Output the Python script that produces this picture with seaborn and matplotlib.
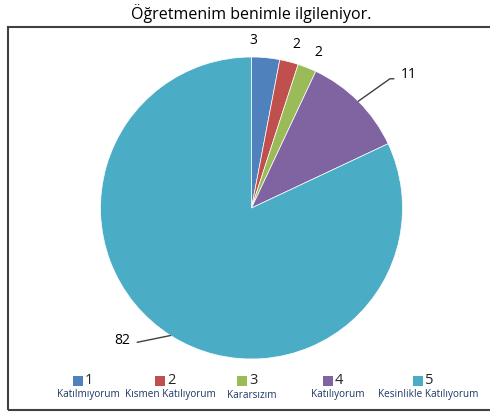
import numpy as np
import matplotlib
matplotlib.use("Agg")
import matplotlib.pyplot as plt
import seaborn as sns
from matplotlib.patches import Rectangle

sns.set_theme(style="white")
plt.rcParams['font.family'] = ['Open Sans', 'DejaVu Sans']

# Veriler
kategoriler = ["1", "2", "3", "4", "5"]
etiketler = ["Katılmıyorum", "Kısmen Katılıyorum", "Kararsızım", "Katılıyorum", "Kesinlikle Katılıyorum"]
degerler = [3, 2, 2, 11, 82]
renkler = ["#4F81BD", "#C0504D", "#9BBB59", "#8064A2", "#4BACC6"]

W, H = 490, 412
fig = plt.figure(figsize=(W / 100, H / 100), dpi=100)

# cerceve
fig.add_artist(Rectangle((8 / W, 2 / H), 1.2, (410 - 27) / H, transform=fig.transFigure,
                         fill=False, edgecolor="#404040", linewidth=1.5))
fig.text(251 / W, 1 - 14 / H, "Öğretmenim benimle ilgileniyor.", ha="center", va="center",
         fontsize=11.5, color="black")

# pasta
cx, cy, r = 251.5, 208, 151
k = 1.25
ax = fig.add_axes([(cx - r * k) / W, (H - cy - r * k) / H, 2 * r * k / W, 2 * r * k / H])
wedges, _ = ax.pie(degerler, colors=renkler, startangle=90, counterclock=False,
                   wedgeprops=dict(edgecolor="white", linewidth=0.5))
ax.set_xlim(-k, k)
ax.set_ylim(-k, k)
ax.set_aspect("equal")
ax.axis("off")

# etiketler (piksel konumu -> veri birimi)
def pt(x, y):
    return ((x - cx) / r, (cy - y) / r)

etiket_konum = [pt(253, 41), pt(296, 45), pt(318, 52), pt(409, 75), pt(122, 340)]
for i, (w, v) in enumerate(zip(wedges, degerler)):
    tx, ty = etiket_konum[i]
    ax.text(tx, ty, str(v), ha="center", va="center", fontsize=10, color="black")
    if v >= 10:
        a = np.deg2rad((w.theta1 + w.theta2) / 2)
        ex, ey = np.cos(a), np.sin(a)
        if tx > 0:
            ly = ty - 0.025
            ax.plot([ex, ex + 0.21, tx - 0.1], [ey, ly, ly], color="#404040", lw=1)
        else:
            ly = ty - 0.015
            ax.plot([ex, ex - 0.22, tx + 0.1], [ey, ly, ly], color="#404040", lw=1)

# lejant
lejant_x = [88, 170, 252, 338, 428]
for i in range(5):
    x = lejant_x[i]
    fig.add_artist(Rectangle(((x - 15) / W, (H - 386) / H), 10 / W, 10 / H,
                             transform=fig.transFigure, facecolor=renkler[i], edgecolor="none"))
    fig.text((x - 3) / W, 1 - 381 / H, kategoriler[i], ha="left", va="center", fontsize=10.5)
    fig.text(x / W, 1 - 395 / H, etiketler[i], ha="center", va="center", fontsize=7.2,
             color="#1F3864")

fig.savefig("out.png", dpi=100)
